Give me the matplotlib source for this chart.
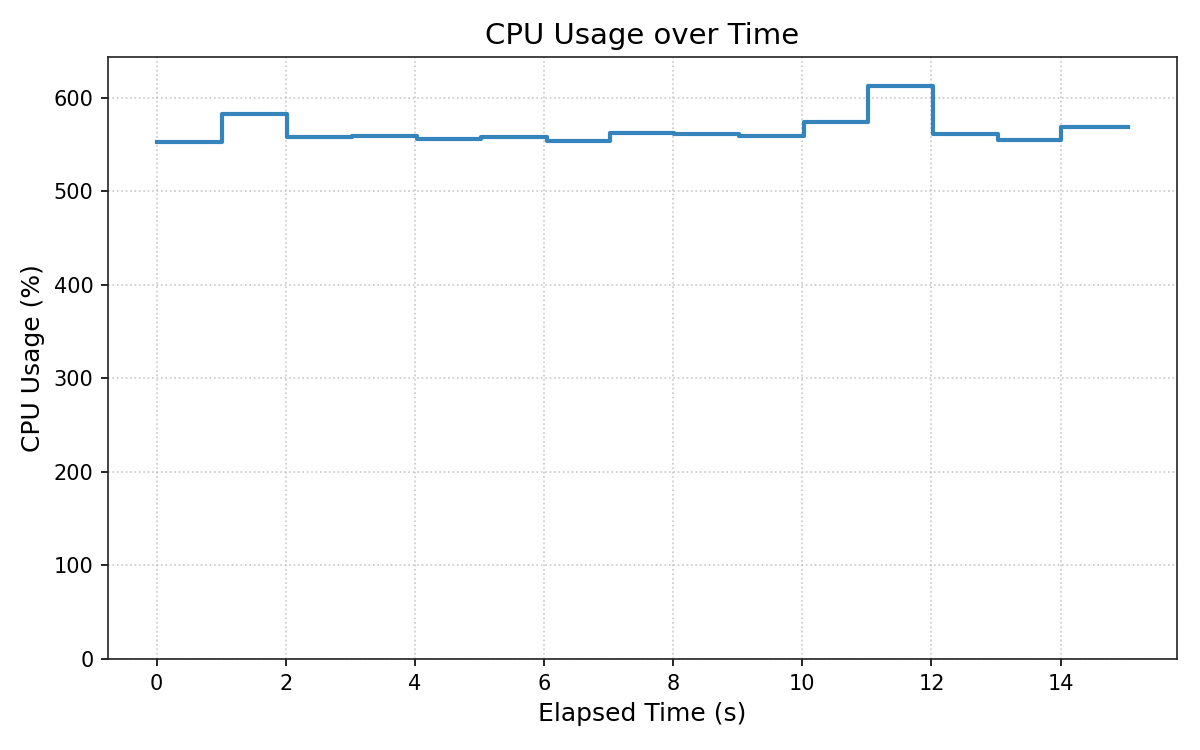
import matplotlib
matplotlib.use("Agg")
import matplotlib.pyplot as plt

elapsed = [0.0, 1.02, 2.02, 3.02, 4.03, 5.03, 6.04, 7.02, 8.02, 9.02,
           10.03, 11.02, 12.02, 13.03, 14.01, 15.05]
cpu = [553.0, 582.2, 558.3, 559.4, 556.2, 558.3, 553.4, 562.8, 561.5, 559.4,
       574.4, 612.9, 560.8, 555.1, 569.0, 569.0]

title = "CPU Usage over Time"
xlabel = "Elapsed Time (s)"
ylabel = "CPU Usage (%)"

fig, ax = plt.subplots(figsize=(8, 5), dpi=150)
ax.step(elapsed, cpu, where="post", color="#1f77b4", alpha=0.9, linewidth=2)
ax.set_ylim(0, max(cpu) * 1.05)
ax.set_title(title, fontsize=14)
ax.set_xlabel(xlabel, fontsize=12)
ax.set_ylabel(ylabel, fontsize=12)
ax.tick_params(labelsize=10)
ax.grid(True, linestyle=":", color="#bbbbbb", alpha=0.8)
for s in ax.spines.values():
    s.set_color("#222222")
fig.subplots_adjust(left=108/1200, right=1177/1200, top=1-57/750, bottom=1-659/750)
fig.savefig("out.png", dpi=150)
